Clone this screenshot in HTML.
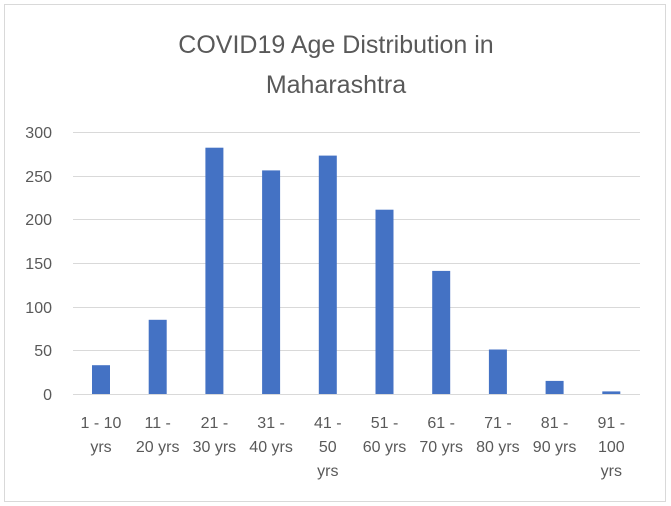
<!DOCTYPE html>
<html><head><style>
body{margin:0;background:#fff;}
svg{display:block;font-family:"Liberation Sans",Calibri,sans-serif;}
</style></head><body>
<svg width="671" height="506" xmlns="http://www.w3.org/2000/svg">
<rect x="0" y="0" width="671" height="506" fill="#fff"/>
<rect x="4.5" y="4.5" width="661" height="497" fill="#fff" stroke="#d9d9d9" stroke-width="1"/>
<g fill="#595959" font-size="25" text-anchor="middle">
<text x="336" y="53">COVID19 Age Distribution in</text>
<text x="336" y="93">Maharashtra</text>
</g>
<g stroke="#d9d9d9" stroke-width="1">
<line x1="73" x2="640" y1="132.5" y2="132.5"/>
<line x1="73" x2="640" y1="176.5" y2="176.5"/>
<line x1="73" x2="640" y1="219.5" y2="219.5"/>
<line x1="73" x2="640" y1="263.5" y2="263.5"/>
<line x1="73" x2="640" y1="307.5" y2="307.5"/>
<line x1="73" x2="640" y1="350.5" y2="350.5"/>
<line x1="73" x2="640" y1="394.5" y2="394.5"/>
</g>
<g fill="#595959" font-size="16" text-anchor="end">
<text x="52" y="138">300</text>
<text x="52" y="182">250</text>
<text x="52" y="225">200</text>
<text x="52" y="269">150</text>
<text x="52" y="313">100</text>
<text x="52" y="356">50</text>
<text x="52" y="400">0</text>
</g>
<g fill="#4472c4">
<rect x="92" y="365.2" width="18" height="28.8"/>
<rect x="148.7" y="319.8" width="18" height="74.2"/>
<rect x="205.4" y="147.7" width="18" height="246.3"/>
<rect x="262.1" y="170.4" width="18" height="223.6"/>
<rect x="318.8" y="155.6" width="18" height="238.4"/>
<rect x="375.5" y="209.7" width="18" height="184.3"/>
<rect x="432.2" y="270.9" width="18" height="123.1"/>
<rect x="488.9" y="349.5" width="18" height="44.5"/>
<rect x="545.6" y="380.9" width="18" height="13.1"/>
<rect x="602.3" y="391.4" width="18" height="2.6"/>
</g>
<g fill="#595959" font-size="16" text-anchor="middle">
<text x="101" y="428">1 - 10</text><text x="101" y="452">yrs</text>
<text x="157.7" y="428">11 -</text><text x="157.7" y="452">20 yrs</text>
<text x="214.4" y="428">21 -</text><text x="214.4" y="452">30 yrs</text>
<text x="271.1" y="428">31 -</text><text x="271.1" y="452">40 yrs</text>
<text x="327.8" y="428">41 -</text><text x="327.8" y="452">50</text><text x="327.8" y="476">yrs</text>
<text x="384.5" y="428">51 -</text><text x="384.5" y="452">60 yrs</text>
<text x="441.2" y="428">61 -</text><text x="441.2" y="452">70 yrs</text>
<text x="497.9" y="428">71 -</text><text x="497.9" y="452">80 yrs</text>
<text x="554.6" y="428">81 -</text><text x="554.6" y="452">90 yrs</text>
<text x="611.3" y="428">91 -</text><text x="611.3" y="452">100</text><text x="611.3" y="476">yrs</text>
</g>
</svg>
</body></html>
